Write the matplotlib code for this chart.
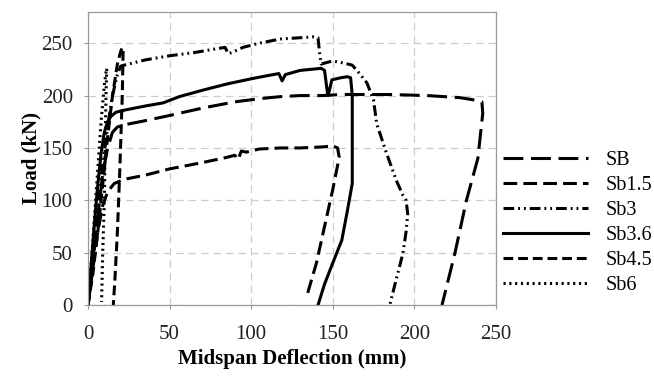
import matplotlib
matplotlib.use("Agg")
import matplotlib.pyplot as plt

# load-deflection curves
sb_x = [0, 3, 6, 9, 12, 15, 18, 22, 35, 50, 70, 90, 105, 118, 130, 144, 155, 167, 185, 208, 228, 236, 241.5, 242, 239, 232, 225, 217]
sb_y = [0, 40, 85, 125, 150, 165, 170, 172, 176, 181, 188, 194, 197, 199, 200, 200, 201, 201, 201, 200, 198, 196, 194, 183, 140, 100, 50, 0]

sb15_x = [0, 3, 6, 9, 12, 16, 22, 35, 50, 70, 85, 90, 92, 94, 97, 105, 118, 130, 144, 150, 153, 154, 150, 145, 140, 134]
sb15_y = [0, 35, 70, 95, 108, 116, 120, 124, 130, 136, 141, 143, 139, 147, 146, 149, 150, 150, 151, 152, 150, 141, 110, 75, 40, 8]

sb3_x = [0, 3, 6, 9, 12, 15, 18, 20, 22, 35, 50, 65, 80, 84, 86, 88, 95, 105, 118, 128, 138, 141, 142, 143, 145, 150,
         157, 162, 167, 171, 175, 177, 183, 189, 193, 195, 196, 195, 193, 189, 185]
sb3_y = [0, 45, 90, 135, 170, 200, 220, 228, 229, 234, 238, 241, 245, 246, 240, 241, 246, 250, 254, 255, 256, 255, 240, 230, 231, 233,
         231, 229, 220, 212, 196, 173, 145, 119, 105, 100, 87, 70, 49, 25, 0]

sb36_x = [0, 2, 4, 6, 8, 10, 12, 14, 17, 22, 35, 46, 56, 70, 85, 100, 110, 117, 119, 121, 130, 143, 145, 147, 148, 149.5,
          155, 159, 161, 162, 162, 159, 155.6, 150, 145, 141]
sb36_y = [0, 40, 80, 115, 145, 165, 175, 180, 184, 186, 190, 193, 199, 205, 211, 216, 219, 221, 214, 220, 224, 226, 224, 200, 205, 215,
          217, 218, 217, 200, 116, 90, 62, 40, 20, 0]

sb45_x = [0, 3, 6, 9, 12, 15, 18, 20, 21, 21.5, 21, 19.5, 18, 16.5, 15.5]
sb45_y = [0, 30, 70, 115, 160, 200, 230, 242, 246, 243, 200, 130, 70, 25, 0]

sb6_x = [0, 2, 4, 6, 8, 10, 11, 11.5, 11, 10.5, 10, 9, 8.3]
sb6_y = [0, 40, 85, 130, 175, 210, 222, 226, 200, 150, 100, 50, 3]

labels = ["SB", "Sb1.5", "Sb3", "Sb3.6", "Sb4.5", "Sb6"]

plt.rcParams["font.family"] = ["Liberation Serif", "DejaVu Serif"]

fig = plt.figure(figsize=(6.54, 3.79), dpi=100)
ax = fig.add_axes([0.1346, 0.195, 0.6235, 0.774])

lw = 2.2
ax.plot(sb_x, sb_y, color="black", lw=lw, dashes=(6.5, 2.5), label=labels[0])
ax.plot(sb15_x, sb15_y, color="black", lw=lw, dashes=(4.5, 2.0), label=labels[1])
ax.plot(sb3_x, sb3_y, color="black", lw=lw, dashes=(3.5, 1.3, 0.6, 1.3, 0.6, 1.3), label=labels[2])
ax.plot(sb36_x, sb36_y, color="black", lw=lw, label=labels[3])
ax.plot(sb45_x, sb45_y, color="black", lw=lw, dashes=(3.2, 1.6), label=labels[4])
ax.plot(sb6_x, sb6_y, color="black", lw=lw, dashes=(0.7, 1.2), label=labels[5])

ax.set_xlim(0, 250)
ax.set_ylim(0, 280)
ax.set_xticks([0, 50, 100, 150, 200, 250])
ax.set_yticks([0, 50, 100, 150, 200, 250])
ax.grid(True, color="#cccccc", linestyle=(0, (6, 4)), linewidth=0.9)
ax.set_axisbelow(True)
for s in ax.spines.values():
    s.set_color("#9a9a9a")
    s.set_linewidth(0.9)
ax.tick_params(labelsize=15, colors="#9a9a9a", labelcolor="#222222", length=3, direction="out")
ax.tick_params(axis="x", pad=11)
ax.tick_params(axis="y", pad=8)

ax.set_xlabel("Midspan Deflection (mm)", fontsize=15, fontweight="bold", labelpad=4)
ax.set_ylabel("Load (kN)", fontsize=15, fontweight="bold", labelpad=0)

ax.legend(loc="center left", bbox_to_anchor=(0.999, 0.28), frameon=False, fontsize=14.5,
          handlelength=4.2, handletextpad=0.85, labelspacing=0.3, borderaxespad=0.0)

fig.savefig("out.png", dpi=100)
